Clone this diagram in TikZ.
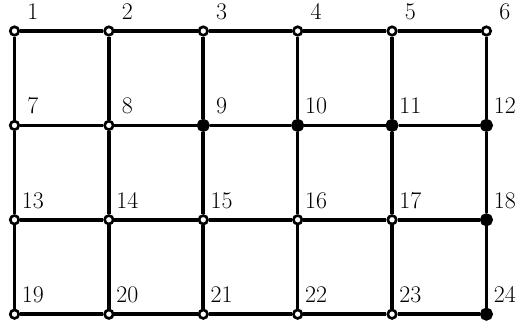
\documentclass[tikz,border=0pt]{standalone}
\usepackage{fontspec}
\setmainfont{Latin Modern Roman}
\usetikzlibrary{positioning}

\begin{document}
\begin{tikzpicture}[font=\rmfamily\Large,
            vtx/.style={circle,draw=black,fill=white,line width=1.6pt,
                        minimum size=0.18cm,inner sep=0pt},
            hit/.style={vtx,fill=black,minimum size=0.22cm},
            lbl/.style={xshift=0.39cm,yshift=0.41cm,inner sep=0pt},
            edge/.style={black,line width=2.2pt}]
            \useasboundingbox (-0.307,0.657) rectangle (10.69,-6.27);
            % first row
            \node[vtx] (n1)  at (0,0)  [label={[lbl]center:1}] {};
            \node[vtx] (n2)  at (2,0)  [label={[lbl]center:2}] {};
            \node[vtx] (n3)  at (4,0)  [label={[lbl]center:3}] {};
            \node[vtx] (n4)  at (6,0)  [label={[lbl]center:4}] {};
            \node[vtx] (n5)  at (8,0)  [label={[lbl]center:5}] {};
            \node[vtx] (n6)  at (10,0) [label={[lbl]center:6}] {};
            % second row
            \node[vtx] (n7)  at (0,-2)  [label={[lbl]center:7}] {};
            \node[vtx] (n8)  at (2,-2)  [label={[lbl]center:8}] {};
            \node[hit] (n9)  at (4,-2)  [label={[lbl]center:9}] {};
            \node[hit] (n10) at (6,-2)  [label={[lbl]center:10}] {};
            \node[hit] (n11) at (8,-2)  [label={[lbl]center:11}] {};
            \node[hit] (n12) at (10,-2) [label={[lbl]center:12}] {};
            % third row
            \node[vtx] (n13) at (0,-4)  [label={[lbl]center:13}] {};
            \node[vtx] (n14) at (2,-4)  [label={[lbl]center:14}] {};
            \node[vtx] (n15) at (4,-4)  [label={[lbl]center:15}] {};
            \node[vtx] (n16) at (6,-4)  [label={[lbl]center:16}] {};
            \node[vtx] (n17) at (8,-4)  [label={[lbl]center:17}] {};
            \node[hit] (n18) at (10,-4) [label={[lbl]center:18}] {};
            % fourth row
            \node[vtx] (n19) at (0,-6)  [label={[lbl]center:19}] {};
            \node[vtx] (n20) at (2,-6)  [label={[lbl]center:20}] {};
            \node[vtx] (n21) at (4,-6)  [label={[lbl]center:21}] {};
            \node[vtx] (n22) at (6,-6)  [label={[lbl]center:22}] {};
            \node[vtx] (n23) at (8,-6)  [label={[lbl]center:23}] {};
            \node[hit] (n24) at (10,-6) [label={[lbl]center:24}] {};
            % horizontal edges
            \draw[edge] (n1)--(n2)--(n3)--(n4)--(n5)--(n6);
            \draw[edge] (n7)--(n8)--(n9)--(n10)--(n11)--(n12);
            \draw[edge] (n13)--(n14)--(n15)--(n16)--(n17)--(n18);
            \draw[edge] (n19)--(n20)--(n21)--(n22)--(n23)--(n24);
            % vertical edges
            \draw[edge] (n1)--(n7)--(n13)--(n19);
            \draw[edge] (n2)--(n8)--(n14)--(n20);
            \draw[edge] (n3)--(n9)--(n15)--(n21);
            \draw[edge] (n4)--(n10)--(n16)--(n22);
            \draw[edge] (n5)--(n11)--(n17)--(n23);
            \draw[edge] (n6)--(n12)--(n18)--(n24);
        \end{tikzpicture}
\end{document}
